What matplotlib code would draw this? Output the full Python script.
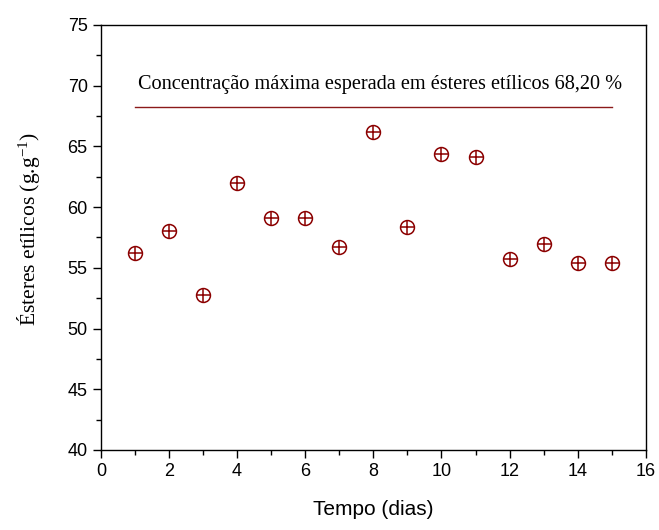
import matplotlib
matplotlib.use('Agg')
from matplotlib import pyplot as plt
from matplotlib.ticker import MultipleLocator

plt.rcParams['mathtext.fontset'] = 'custom'
plt.rcParams['mathtext.rm'] = 'Liberation Serif'
plt.rcParams['mathtext.it'] = 'Liberation Serif:italic'

dias = [1, 2, 3, 4, 5, 6, 7, 8, 9, 10, 11, 12, 13, 14, 15]
esteres = [56.2, 58.0, 52.8, 62.0, 59.1, 59.1, 56.7, 66.2, 58.4, 64.4, 64.1, 55.7, 57.0, 55.4, 55.4]
max_esperada = 68.2
linha_x = [1, 15]
label_txt = 'Concentração máxima esperada em ésteres etílicos 68,20 %'

cor = '#8B0000'

fig = plt.figure(figsize=(6.59, 5.30), dpi=100)
ax = fig.add_axes([0.153, 0.151, 0.827, 0.802])

ax.plot(dias, esteres, 'o', ms=10, mfc='none', mec=cor, mew=1.1, ls='none')
ax.plot(dias, esteres, '+', ms=10, mec=cor, mew=1.1, ls='none')
ax.plot(linha_x, [max_esperada, max_esperada], color='#8B1A1A', lw=1)
ax.text(8.2, 70.1, label_txt, ha='center', va='center',
        family='Liberation Serif', fontsize=14.6)

ax.set_xlim(0, 16)
ax.set_ylim(40, 75)
ax.xaxis.set_major_locator(MultipleLocator(2))
ax.xaxis.set_minor_locator(MultipleLocator(1))
ax.yaxis.set_major_locator(MultipleLocator(5))
ax.yaxis.set_minor_locator(MultipleLocator(2.5))
ax.tick_params(which='both', direction='out', top=False, right=False, width=1)
ax.tick_params(which='major', length=6, labelsize=13)
ax.tick_params(which='minor', length=3.5)
for lab in ax.get_xticklabels() + ax.get_yticklabels():
    lab.set_family('Liberation Sans')
for s in ax.spines.values():
    s.set_linewidth(1)

ax.set_xlabel('Tempo (dias)', family='Liberation Sans', fontsize=15, labelpad=14)
ax.set_ylabel(r'Ésteres etílicos (g.g$^{\mathrm{-1}}$)', family='Liberation Serif',
              fontsize=15.5)
ax.yaxis.set_label_coords(-0.108, 0.52)

fig.savefig('out.png', dpi=100)
